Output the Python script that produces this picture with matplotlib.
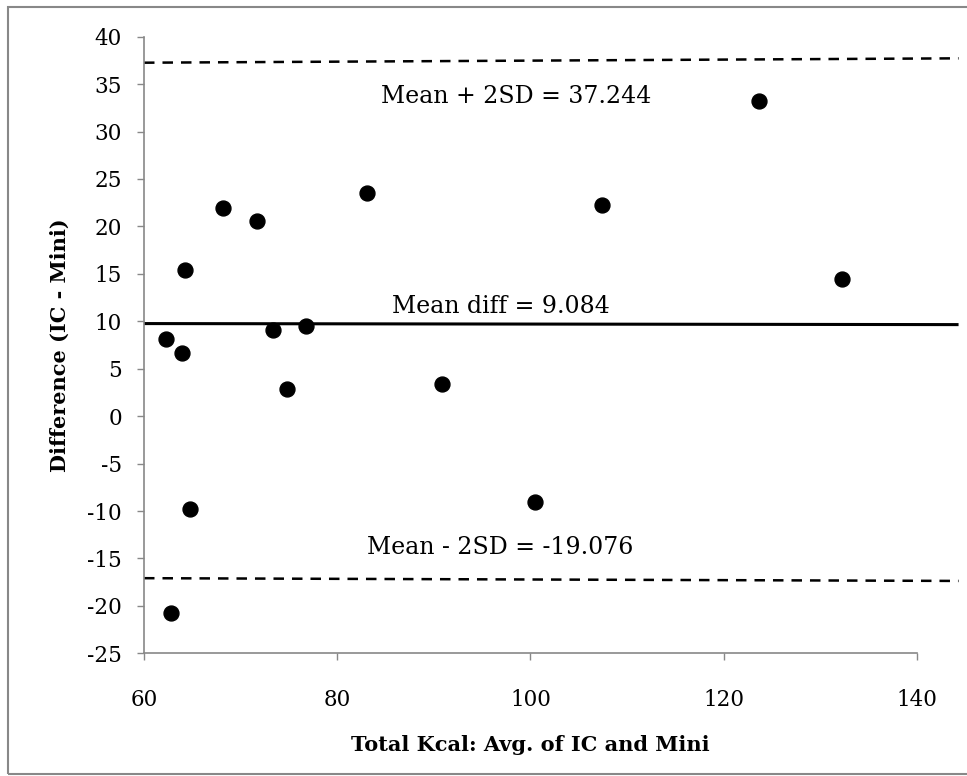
import matplotlib
matplotlib.use('Agg')
import matplotlib.pyplot as plt
from matplotlib.patches import Rectangle

# Bland-Altman data
avg_kcal = [62.3, 63.9, 64.2, 64.8, 62.8, 68.2, 71.7, 73.3, 74.8, 76.8,
            83.1, 90.8, 100.5, 107.4, 123.6, 132.2]
diff_kcal = [8.1, 6.7, 15.4, -9.8, -20.8, 21.9, 20.6, 9.1, 2.9, 9.5,
             23.5, 3.4, -9.0, 22.3, 33.2, 14.5]

# hand drawn reference lines (x start/end, y start/end)
line_x = [60, 144.3]
mean_y = [9.76, 9.65]
upper_y = [37.26, 37.72]
lower_y = [-17.08, -17.37]

labels = ['Mean + 2SD = 37.244', 'Mean diff = 9.084', 'Mean - 2SD = -19.076']
label_x = [98.5, 96.9, 96.85]
label_y = [33.05, 10.88, -14.56]

xticks = [60, 80, 100, 120, 140]
yticks = list(range(-25, 41, 5))

plt.rcParams['font.family'] = 'DejaVu Serif'
plt.rcParams['axes.unicode_minus'] = False

fig = plt.figure(figsize=(9.67, 7.76), dpi=100)
ax = fig.add_axes([0.1489, 0.1581, 0.7994, 0.7946])

# chart border
fig.patches.append(Rectangle((8/967, 2/776), 1.2, 767/776, transform=fig.transFigure,
                             fill=False, edgecolor='#888888', lw=1.5, clip_on=False))

ax.scatter(avg_kcal, diff_kcal, s=115, color='black', zorder=3, clip_on=False)

ax.plot(line_x, mean_y, color='black', lw=2.2, clip_on=False, solid_capstyle='butt')
ax.plot(line_x, upper_y, color='black', lw=1.8, dashes=(4.2, 3.2), clip_on=False)
ax.plot(line_x, lower_y, color='black', lw=1.8, dashes=(4.2, 3.2), clip_on=False)

for t, x, y in zip(labels, label_x, label_y):
    ax.text(x, y, t, fontsize=17, ha='center', va='baseline')

ax.set_xlim(60, 140)
ax.set_ylim(-25, 40)
ax.set_xticks(xticks)
ax.set_yticks(yticks)
ax.tick_params(axis='both', direction='out', length=5, width=1, color='#888888',
               labelsize=15.5)
ax.tick_params(axis='y', pad=11)
ax.tick_params(axis='x', pad=21)

for s in ['top', 'right']:
    ax.spines[s].set_visible(False)
for s in ['left', 'bottom']:
    ax.spines[s].set_color('#888888')
    ax.spines[s].set_linewidth(1.2)

ax.set_xlabel('Total Kcal: Avg. of IC and Mini', fontsize=15, fontweight='bold', labelpad=17)
ax.set_ylabel('Difference (IC - Mini)', fontsize=15, fontweight='bold', labelpad=12)

fig.savefig('out.png', dpi=100)
